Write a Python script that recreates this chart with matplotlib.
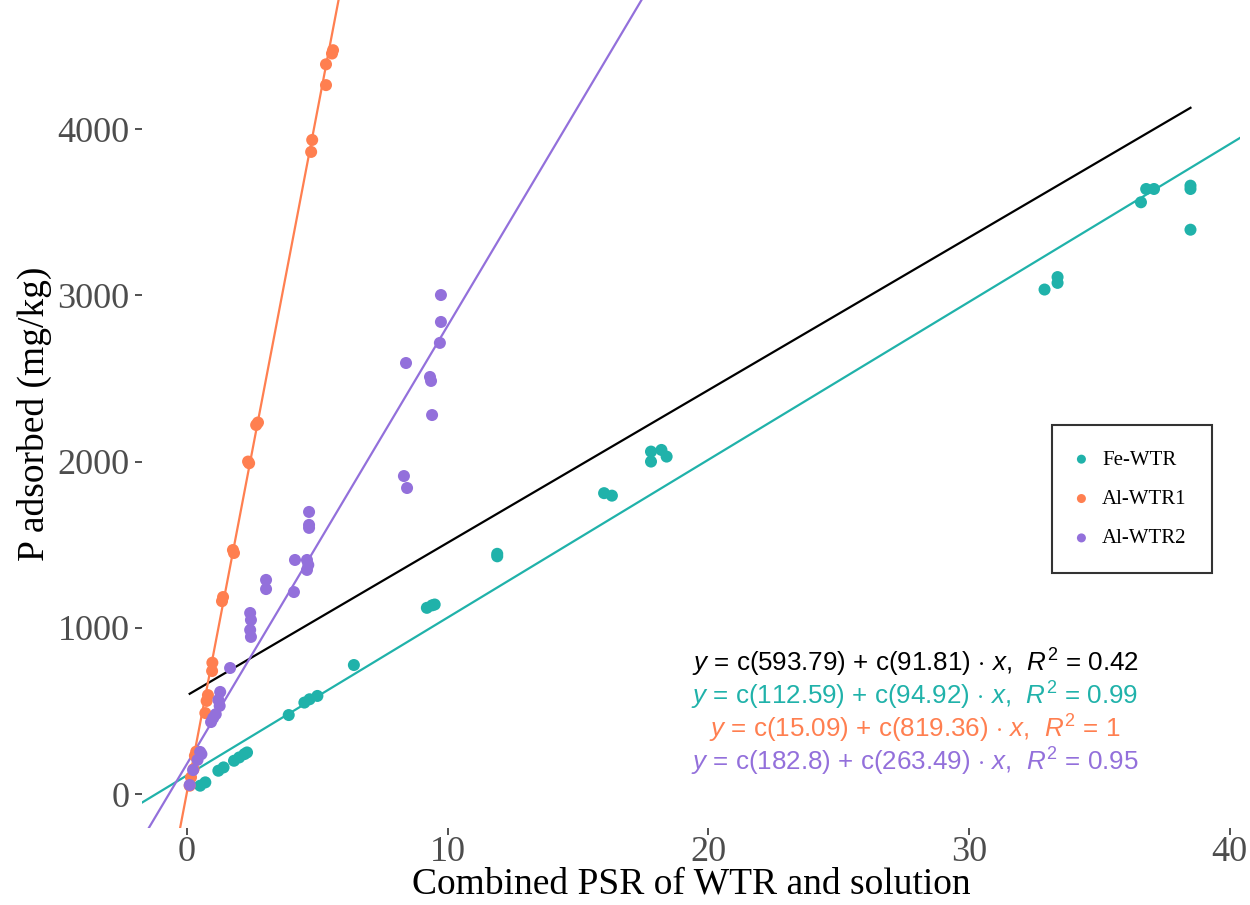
import matplotlib
matplotlib.use("Agg")
import matplotlib.pyplot as plt
import numpy as np

plt.rcParams['mathtext.fontset'] = 'custom'
plt.rcParams['mathtext.rm'] = 'Liberation Sans'
plt.rcParams['mathtext.it'] = 'Liberation Sans:italic'

# Fe-WTR
fe_x = [0.5, 0.7, 1.2, 1.4, 1.8, 2.0, 2.2, 2.3, 3.9, 4.5, 4.7, 5.0, 6.4, 9.2, 9.4, 9.5,
        11.9, 11.9, 16.0, 16.3, 17.8, 17.8, 18.2, 18.4, 32.9, 33.4, 33.4, 36.6, 36.8, 37.1,
        38.5, 38.5, 38.5]
fe_y = [50, 70, 140, 160, 200, 220, 240, 250, 475, 550, 570, 590, 776, 1120, 1135, 1140,
        1430, 1445, 1810, 1795, 2000, 2060, 2070, 2030, 3035, 3110, 3075, 3560, 3640, 3640,
        3660, 3640, 3395]

# Al-WTR1
al1_x = [0.1, 0.15, 0.25, 0.3, 0.35, 0.7, 0.75, 0.8, 0.96, 0.97, 1.34, 1.38, 1.76, 1.8,
         2.34, 2.38, 2.65, 2.72, 4.76, 4.8, 5.33, 5.33, 5.56, 5.6]
al1_y = [50, 100, 150, 230, 255, 487, 560, 595, 740, 790, 1160, 1185, 1468, 1450,
         2000, 1990, 2220, 2235, 3863, 3935, 4265, 4390, 4455, 4475]

# Al-WTR2
al2_x = [0.1, 0.23, 0.4, 0.5, 0.55, 0.92, 1.0, 1.1, 1.2, 1.27, 1.25, 1.65, 2.42, 2.45,
         2.42, 2.45, 3.03, 3.03, 4.14, 4.1, 4.68, 4.68, 4.68, 4.6, 4.65, 4.6, 8.32, 8.44,
         8.4, 9.32, 9.36, 9.4, 9.7, 9.74, 9.74]
al2_y = [54, 144, 205, 253, 240, 433, 457, 480, 566, 614, 530, 758, 1089, 1047,
         987, 945, 1288, 1233, 1408, 1215, 1697, 1619, 1601, 1408, 1378, 1348, 1913, 1841,
         2593, 2509, 2485, 2280, 2714, 2840, 3002]

groups = ['Fe-WTR', 'Al-WTR1', 'Al-WTR2']
colors = ['#20B2AA', '#FF7F50', '#9370DB']

# fitted coefficients shown on the chart
all_fit = (593.79, 91.81, 0.42)
fits = [(112.59, 94.92, 0.99), (15.09, 819.36, 1), (182.8, 263.49, 0.95)]

fig = plt.figure(figsize=(12.5, 9.05), dpi=100)
ax = fig.add_axes([0.1136, 0.085, 0.8784, 0.915])
xlim = (-1.73, 40.4)
ylim = (-205, 4777)

xs = [fe_x, al1_x, al2_x]
ys = [fe_y, al1_y, al2_y]
for i in range(3):
    ax.scatter(xs[i], ys[i], s=75, color=colors[i], label=groups[i], zorder=3,
               edgecolors='none')

allx = np.concatenate([np.array(v) for v in xs])
xx = np.array([allx.min(), allx.max()])
ax.plot(xx, all_fit[0] + all_fit[1] * xx, color='black', lw=1.6, zorder=2)
xf = np.array(xlim)
for i in range(3):
    ax.plot(xf, fits[i][0] + fits[i][1] * xf, color=colors[i], lw=1.6, zorder=2)

ax.set_xlim(xlim)
ax.set_ylim(ylim)
ax.set_xticks([0, 10, 20, 30, 40])
ax.set_yticks([0, 1000, 2000, 3000, 4000])
for s in ax.spines.values():
    s.set_visible(False)
ax.tick_params(length=5, width=1.2, color='#333333', labelcolor='#4D4D4D',
               labelsize=26)
ax.tick_params(axis='x', pad=1)
ax.tick_params(axis='y', pad=4)
for lab in ax.get_xticklabels() + ax.get_yticklabels():
    lab.set_fontfamily('Liberation Serif')

ax.set_xlabel('Combined PSR of WTR and solution', fontsize=27,
              family='Liberation Serif', labelpad=-2)
ax.set_ylabel('P adsorbed (mg/kg)', fontsize=27, family='Liberation Serif',
              labelpad=4)

def eq(f):
    return (r'$y$ = c(' + str(f[0]) + ') + c(' + str(f[1])
            + r') $\cdot$ $x$,  $R^2$ = ' + str(f[2]))

eq_cols = ['black'] + colors
eq_fits = [all_fit] + fits
for i in range(4):
    ax.text(915, 905 - (663 + 33 * i), eq(eq_fits[i]), color=eq_cols[i],
            fontsize=18.7, family='Liberation Sans', ha='center', va='center',
            transform=None)

leg = ax.legend(loc='upper left', bbox_to_anchor=(0.829, 0.4867), frameon=True,
                fancybox=False, edgecolor='black', borderaxespad=0,
                prop={'family': 'Liberation Serif', 'size': 15},
                markerscale=0.75, handletextpad=0.8, labelspacing=0.95,
                borderpad=1.2, handlelength=0.4)
leg.get_frame().set_linewidth(1.5)

fig.savefig('out.png', dpi=100)
